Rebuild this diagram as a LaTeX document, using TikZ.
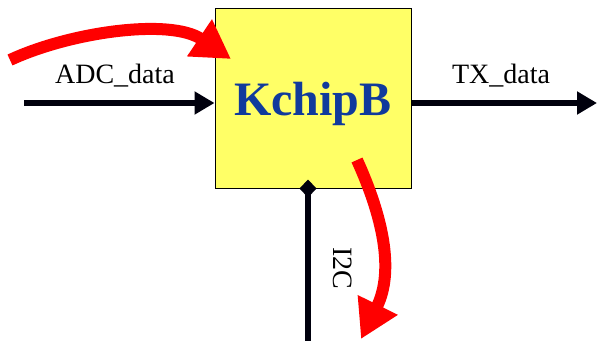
\documentclass[tikz,border=0pt]{standalone}
\usepackage{fontspec}
\setmainfont{Liberation Serif}
\usetikzlibrary{arrows.meta}
\definecolor{boxyellow}{RGB}{255,255,102}
\definecolor{kblue}{RGB}{16,58,156}
\definecolor{hired}{RGB}{255,0,0}
\tikzset{
  sig/.style={line width=6pt, draw=black!95!blue},
  hint/.style={line width=12pt, draw=hired, -{Triangle[length=38pt,width=42pt]}},
  lbl/.style={font=\fontsize{28}{30}\selectfont, anchor=base, inner sep=0pt}
}
\begin{document}
\begin{tikzpicture}[x=1pt,y=-1pt]
\useasboundingbox (0,0) rectangle (597,340);
\fill[white] (0,0) rectangle (597,340);
\node[draw=black, line width=1pt, fill=boxyellow, minimum width=196pt, minimum height=180pt, inner sep=0pt] (box) at (313,98) {};
\node[font=\fontsize{48}{50}\selectfont\bfseries, text=kblue, anchor=base, inner sep=0pt] (title) at (313,115) {KchipB};
\coordinate (adcin) at (24,103);
\coordinate (txout) at (597,103);
\coordinate (i2cend) at (308,345);
\draw[sig, -{Triangle[length=20pt,width=22pt]}] (adcin) -- (box.west |- adcin);
\draw[sig, -{Triangle[length=20pt,width=22pt]}] (box.east |- txout) -- (txout);
\draw[sig, -{Diamond[length=18pt,width=17pt]}, shorten >=-9pt] (i2cend) -- (box.south -| i2cend);
\node[lbl] (adclbl) at (115,83) {ADC\_data};
\node[lbl] (txlbl) at (501,83) {TX\_data};
\node[lbl, rotate=-90] (i2clbl) at (333,268) {I2C};
\coordinate (r1s) at (10,60);
\coordinate (r1e) at (231,59);
\draw[hint] (r1s) .. controls (70,32) and (170,18) .. (r1e);
\coordinate (r2s) at (357,160);
\coordinate (r2e) at (361,339);
\draw[hint] (r2s) .. controls (382,215) and (395,270) .. (r2e);
\end{tikzpicture}
\end{document}
